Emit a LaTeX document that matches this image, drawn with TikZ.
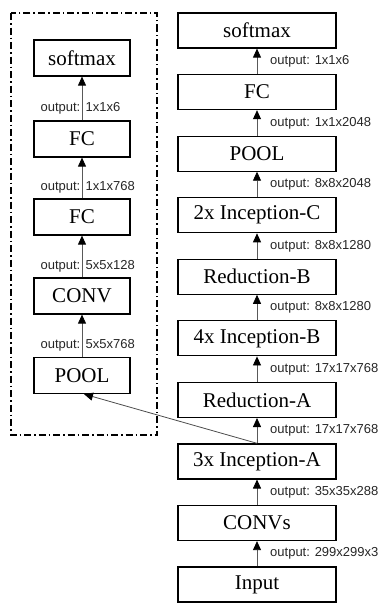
\documentclass[tikz,border=0pt]{standalone}
\usepackage{fontspec}
\setmainfont{Liberation Serif}
\newfontfamily\lsans{Liberation Sans}
\usetikzlibrary{arrows.meta}
\tikzset{
  rbox/.style={draw=black, line width=1.2pt, minimum width=158pt, minimum height=35pt, inner sep=0pt, font=\fontsize{21}{24}\selectfont},
  lbox/.style={draw=black, line width=1.2pt, minimum width=96pt, minimum height=36pt, inner sep=0pt, font=\fontsize{21}{24}\selectfont},
  conn/.style={draw=black!65, line width=0.8pt, -{Triangle[width=8pt,length=9pt,color=black,fill=black]}},
  lbl/.style={font=\lsans\fontsize{13}{15}\selectfont, inner sep=0pt, text=black!85},
  frame/.style={draw=black, line width=1.3pt, dash pattern=on 7pt off 3pt on 1.5pt off 3pt}
}
\begin{document}
\begin{tikzpicture}[x=1pt,y=-1pt]
\useasboundingbox (0,0) rectangle (390,605);
% right column
\node[rbox] (rsoft) at (257,30.5) {softmax};
\node[rbox] (rfc) at (257,92.1) {FC};
\node[rbox] (rpool) at (257,153.6) {POOL};
\node[rbox] (incc) at (257,215.2) {2x Inception-C};
\node[rbox] (redb) at (257,276.7) {Reduction-B};
\node[rbox] (incb) at (257,338.3) {4x Inception-B};
\node[rbox] (reda) at (257,399.9) {Reduction-A};
\node[rbox] (inca) at (257,461.4) {3x Inception-A};
\node[rbox] (convs) at (257,523) {CONVs};
\node[rbox] (input) at (257,584.5) {Input};
\draw[conn] (rfc) -- (rsoft);
\draw[conn] (rpool) -- (rfc);
\draw[conn] (incc) -- (rpool);
\draw[conn] (redb) -- (incc);
\draw[conn] (incb) -- (redb);
\draw[conn] (reda) -- (incb);
\draw[conn] (inca) -- (reda);
\draw[conn] (convs) -- (inca);
\draw[conn] (input) -- (convs);
\node[lbl, anchor=west] (r1) at (270,61.3) {output: 1x1x6};
\node[lbl, anchor=west] (r2) at (270,122.9) {output: 1x1x2048};
\node[lbl, anchor=west] (r3) at (270,184.4) {output: 8x8x2048};
\node[lbl, anchor=west] (r4) at (270,246) {output: 8x8x1280};
\node[lbl, anchor=west] (r5) at (270,307.5) {output: 8x8x1280};
\node[lbl, anchor=west] (r6) at (270,369.1) {output: 17x17x768};
\node[lbl, anchor=west] (r7) at (270,430.7) {output: 17x17x768};
\node[lbl, anchor=west] (r8) at (270,492.2) {output: 35x35x288};
\node[lbl, anchor=west] (r9) at (270,553.8) {output: 299x299x3};
% left panel
\draw[frame] (11,13) rectangle (157,435);
\node[lbox] (lsoft) at (82,58) {softmax};
\node[lbox] (lfc1) at (82,139) {FC};
\node[lbox] (lfc2) at (82,217) {FC};
\node[lbox] (lconv) at (82,296) {CONV};
\node[lbox] (lpool) at (82,375.5) {POOL};
\draw[conn] (lfc1) -- (lsoft);
\draw[conn] (lfc2) -- (lfc1);
\draw[conn] (lconv) -- (lfc2);
\draw[conn] (lpool) -- (lconv);
\node[lbl, anchor=base east] (l1a) at (80.5,111.5) {output:};
\node[lbl, anchor=base west] (l1b) at (85.5,111.5) {1x1x6};
\node[lbl, anchor=base east] (l2a) at (80.5,190.5) {output:};
\node[lbl, anchor=base west] (l2b) at (85.5,190.5) {1x1x768};
\node[lbl, anchor=base east] (l3a) at (80.5,269.5) {output:};
\node[lbl, anchor=base west] (l3b) at (85.5,269.5) {5x5x128};
\node[lbl, anchor=base east] (l4a) at (80.5,348.5) {output:};
\node[lbl, anchor=base west] (l4b) at (85.5,348.5) {5x5x768};
% branch
\draw[conn, draw=black!70] (inca.north) -- ([xshift=2pt]lpool.south);
\end{tikzpicture}
\end{document}
